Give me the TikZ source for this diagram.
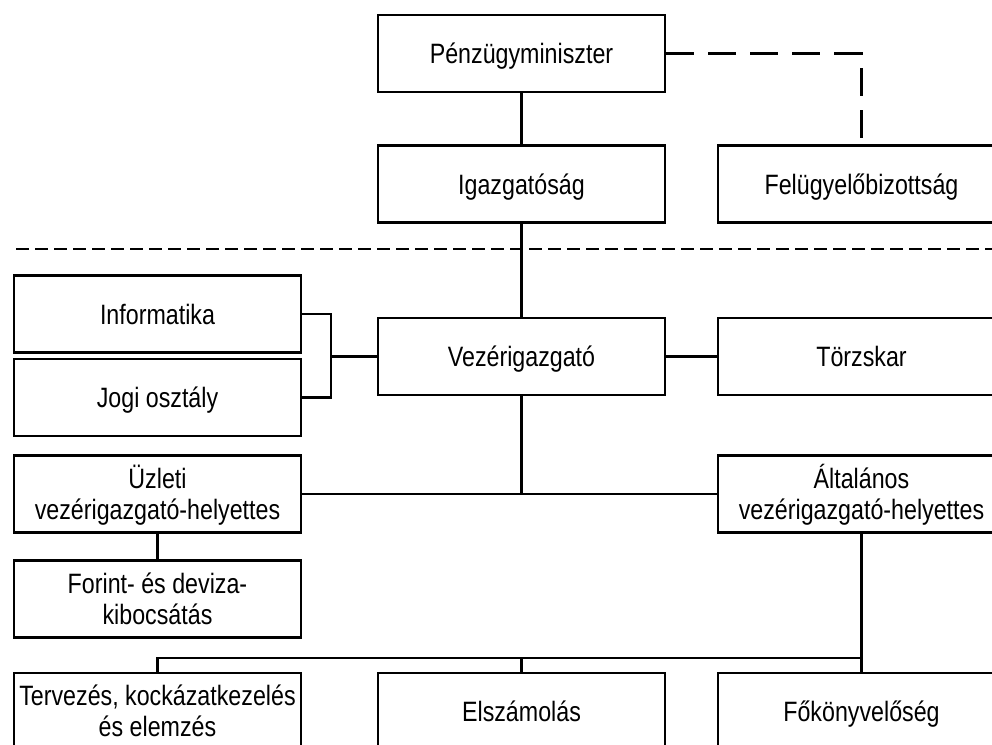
\documentclass[tikz,border=0pt]{standalone}
\usepackage{fontspec}
\setmainfont{Liberation Sans}[FakeStretch=0.83]
\usetikzlibrary{positioning,calc}

\begin{document}
\begin{tikzpicture}[x=0.5pt,y=-0.5pt,line width=1.4pt]
\tikzstyle{unit}=[draw=black,line width=1.4pt,minimum width=143.5pt,minimum height=38.5pt,inner sep=0pt,align=center,font=\fontsize{14}{15.5}\selectfont,text height=10pt,text depth=0pt]
\tikzstyle{unit2}=[unit,text height=25pt]
\tikzstyle{supervise}=[dash pattern=on 14pt off 7pt]
\tikzstyle{border}=[dash pattern=on 6.5pt off 3pt]

\useasboundingbox (0,0) rectangle (992,745);
\clip (0,0) rectangle (992,745);

% top level
\node[unit] (pm) at (521.5,53.5) {Pénzügyminiszter};
\node[unit] (igaz) at (521.5,184) {Igazgatóság};
\node[unit] (fb) at (861.5,184) {Felügyelőbizottság};

\draw[border] (16,249) -- (1000,249);

% management
\node[unit] (info) at (157.5,314) {Informatika};
\node[unit] (jogi) at (157.5,397.5) {Jogi osztály};
\node[unit] (vezer) at (521.5,356.5) {Vezérigazgató};
\node[unit] (torzs) at (861.5,356.5) {Törzskar};
\node[unit2] (uzleti) at (157.5,494) {Üzleti\\vezérigazgató-helyettes};
\node[unit2] (altal) at (861.5,494) {Általános\\vezérigazgató-helyettes};
\node[unit2] (forint) at (157.5,599) {Forint- és deviza-\\kibocsátás};

% departments
\node[unit2] (terv) at (157.5,711.5) {Tervezés, kockázatkezelés\\és elemzés};
\node[unit] (elsz) at (521.5,711.5) {Elszámolás};
\node[unit] (fokony) at (861.5,711.5) {Főkönyvelőség};

\coordinate (brk) at (331,356.5);
\coordinate (hub) at (vezer.south |- uzleti.east);
\coordinate (bus) at (0,658);

\draw[supervise] (pm.east) -| (fb.north);
\path
  (pm) edge (igaz)
  (igaz) edge (vezer)
  (vezer) edge (torzs)
  (brk) edge (vezer)
  (vezer) edge (hub)
  (uzleti) edge (altal)
  (uzleti) edge (forint)
  (altal) edge (fokony)
  (elsz.north |- bus) edge (elsz);
\draw (info.east) -| (brk) |- (jogi.east);
\draw (altal.south |- bus) -| (terv.north);
\end{tikzpicture}
\end{document}
